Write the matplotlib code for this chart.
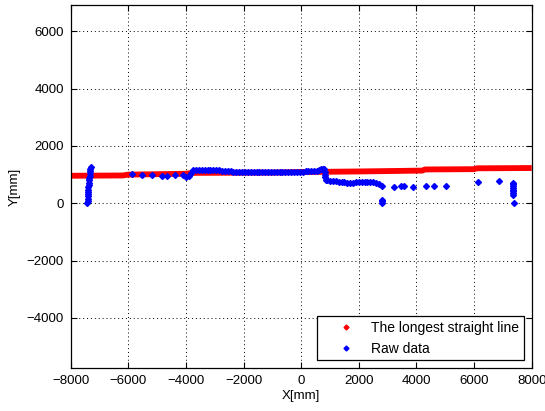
import matplotlib
matplotlib.use("Agg")
import matplotlib.pyplot as plt

plt.rcParams['font.family'] = ['Liberation Sans', 'DejaVu Sans']

# Red: the longest straight line (breakpoints of the fitted line)
red_x = [-8000, -6200, -6000, -4000, -3800, -1000, 0, 1000, 2000, 4200, 4300, 6000, 6100, 8000]
red_y = [960, 970, 1000, 1030, 1060, 1070, 1090, 1100, 1110, 1140, 1180, 1190, 1220, 1230]

# Blue: raw data
blue_x = [
    # vertical cluster left
    -7420, -7415, -7410, -7405, -7400, -7395, -7390, -7385, -7380, -7370,
    -7360, -7350, -7345, -7340, -7330, -7320, -7310,
    # sparse
    -5870, -5520, -5180, -4830, -4660, -4370, -4100, -4000, -3900, -3820,
    # dense
    -3750, -3650, -3550, -3450, -3350, -3250, -3150, -3050, -2950, -2850,
    -2750, -2650, -2550, -2450, -2350, -2250, -2150, -2050, -1950, -1850,
    -1750, -1650, -1550, -1450, -1350, -1250, -1150, -1050, -950, -850,
    -750, -650, -550, -450, -350, -250, -150, -50, 50, 150,
    250, 350, 450, 550, 620, 680, 740, 800, 820, 830, 840, 850,
    # after drop
    900, 1000, 1100, 1200, 1300, 1400, 1500, 1600, 1700, 1800,
    1900, 2000, 2100, 2200, 2300, 2400, 2500, 2600, 2700, 2800,
    # near-zero cluster
    2790, 2800, 2810,
    # sparse right
    3210, 3465, 3580, 3870, 4330, 4620, 5020, 6150, 6860,
    # vertical cluster right
    7350, 7352, 7355, 7357, 7358, 7360, 7362, 7365, 7400,
]
blue_y = [
    0, 80, 160, 240, 320, 400, 480, 560, 640, 720,
    800, 880, 960, 1040, 1120, 1200, 1250,
    1010, 1000, 990, 960, 960, 970, 980, 910, 940, 1050,
    1150, 1165, 1170, 1170, 1165, 1165, 1160, 1160, 1155, 1150,
    1140, 1130, 1120, 1110, 1105, 1100, 1100, 1100, 1100, 1100,
    1100, 1100, 1100, 1100, 1100, 1100, 1100, 1100, 1100, 1100,
    1100, 1100, 1100, 1100, 1100, 1100, 1100, 1100, 1105, 1110,
    1110, 1115, 1120, 1140, 1160, 1180, 1190, 1190, 1100, 1000, 900, 820,
    800, 780, 770, 760, 750, 740, 730, 720, 715, 720,
    730, 730, 735, 740, 745, 750, 740, 700, 660, 610,
    80, 20, 120,
    580, 615, 600, 580, 615, 615, 615, 740, 780,
    290, 350, 420, 480, 540, 600, 660, 720, 0,
]

W, H = 545, 411
fig = plt.figure(figsize=(W / 100, H / 100), dpi=100)
ax = fig.add_axes([70.7 / W, 1 - 368 / H, (531.7 - 70.7) / W, (368 - 5) / H])

ax.plot(red_x, red_y, '-', color='red', lw=4.2, solid_capstyle='butt', zorder=2)
ax.plot([], [], 'D', color='red', ms=2.5, ls='none', label='The longest straight line')
ax.plot(blue_x, blue_y, 'D', color='blue', ms=3.0, ls='none', zorder=3)
ax.plot([], [], 'D', color='blue', ms=2.5, ls='none', label='Raw data')

ax.set_xlim(-8000, 8000)
ax.set_ylim(-5750, 6920)
ax.set_xticks(range(-8000, 8001, 2000))
ax.set_yticks(range(-4000, 6001, 2000))
ax.tick_params(direction='in', top=True, right=True, labelsize=9.5, length=4, pad=5)
ax.grid(True, color='black', linestyle=(0, (1, 3)), linewidth=0.7)
ax.set_xlabel('X[mm]', fontsize=9.5, labelpad=2)
ax.set_ylabel('Y[mm]', fontsize=9.5, labelpad=4)
for s in ax.spines.values():
    s.set_linewidth(0.9)

leg = ax.legend(loc='lower right', fontsize=10, fancybox=False, edgecolor='black',
                framealpha=1, borderaxespad=0.55, handlelength=3.4, handletextpad=0.15,
                labelspacing=0.5, borderpad=0.35)
leg.get_frame().set_linewidth(0.9)

fig.savefig('out.png', dpi=100)
